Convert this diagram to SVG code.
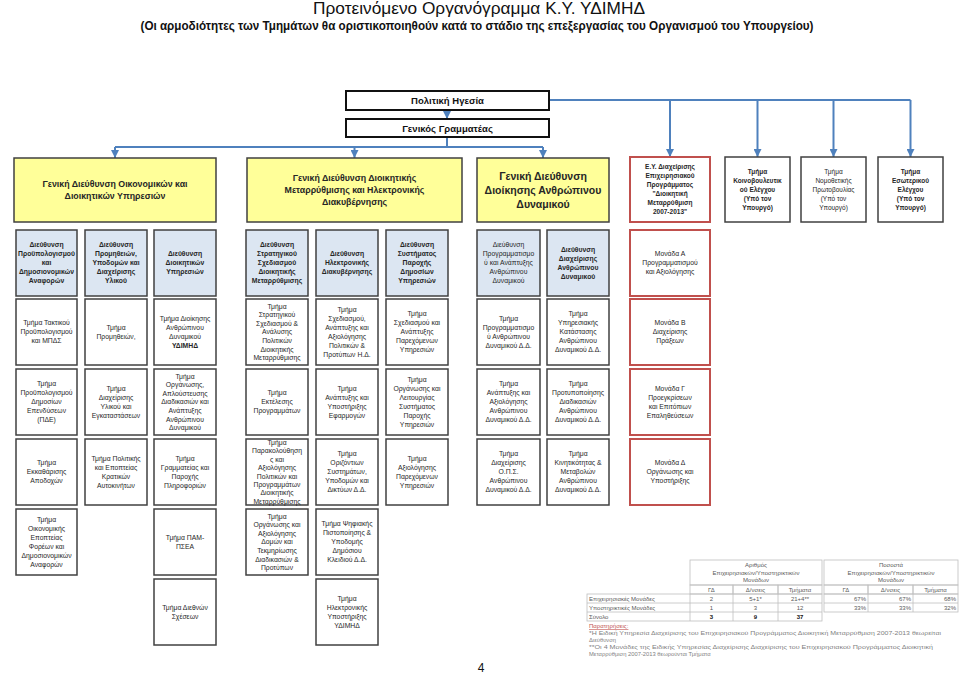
<svg xmlns="http://www.w3.org/2000/svg" width="960" height="676" viewBox="0 0 960 676">
<style>
text{font-family:"Liberation Sans",Arial,sans-serif}
.t{font-size:6.8px;fill:#262626;text-anchor:middle}
.tr{font-size:6.5px;fill:#262626;text-anchor:middle}
.b{font-weight:bold}
.w{fill:#fff;stroke:#404040;stroke-width:1.5}
.bl{fill:#dce6f2;stroke:#404040;stroke-width:1.5}
.yl{fill:#ffff99;stroke:#404040;stroke-width:1.5}
.rd{fill:#fff;stroke:#c0504d;stroke-width:2}
.top{fill:#fff;stroke:#111;stroke-width:2}
.c{stroke:#4f81bd;stroke-width:2;fill:none}
.tb{fill:none;stroke:#bfbfbf;stroke-width:0.8}
.tt{font-size:6px;fill:#595959;text-anchor:middle}
.tl{font-size:6px;fill:#595959}
.nt{font-size:5.8px;fill:#7f7f7f}
</style>
<defs>
<marker id="ar" markerUnits="userSpaceOnUse" markerWidth="8" markerHeight="8" refX="8" refY="4" orient="auto">
<path d="M0,0 L8,4 L0,8 z" fill="#4f81bd"/>
</marker>
</defs>
<rect width="960" height="676" fill="#fff"/>
<text x="479" y="14" font-size="17" text-anchor="middle" fill="#111" textLength="332" lengthAdjust="spacingAndGlyphs">Προτεινόμενο Οργανόγραμμα Κ.Υ. ΥΔΙΜΗΔ</text>
<text x="477" y="30" font-size="12.5" font-weight="bold" text-anchor="middle" fill="#111" textLength="673" lengthAdjust="spacingAndGlyphs">(Οι αρμοδιότητες των Τμημάτων θα οριστικοποιηθούν κατά το στάδιο της επεξεργασίας του Οργανισμού του Υπουργείου)</text>

<g id="connectors">
<path class="c" d="M549,100 H910.5"/>
<path class="c" d="M670,100 V157" marker-end="url(#ar)"/>
<path class="c" d="M757.5,100 V157" marker-end="url(#ar)"/>
<path class="c" d="M833.5,100 V157" marker-end="url(#ar)"/>
<path class="c" d="M910.5,100 V157" marker-end="url(#ar)"/>
<path class="c" d="M447,110 V119" marker-end="url(#ar)"/>
<path class="c" d="M447,137 V147 M115,147 H543"/>
<path class="c" d="M115,147 V158" marker-end="url(#ar)"/>
<path class="c" d="M354.5,147 V158" marker-end="url(#ar)"/>
<path class="c" d="M543,147 V158" marker-end="url(#ar)"/>
</g>

<g id="politiki"><rect class="top" x="346" y="91" width="203" height="19"/><text x="447.5" y="104" font-size="9.5" font-weight="bold" text-anchor="middle" fill="#111">Πολιτική Ηγεσία</text></g>
<g id="gengram"><rect class="top" x="346" y="119" width="203" height="18"/><text x="447.5" y="131.5" font-size="9.5" font-weight="bold" text-anchor="middle" fill="#111">Γενικός Γραμματέας</text></g>

<g id="gd-oik"><rect class="yl" x="14" y="158" width="202" height="64"/><text class="t b" style="font-size:8.8px" x="115" y="187"><tspan x="115" dy="0">Γενική Διεύθυνση Οικονομικών και</tspan><tspan x="115" dy="12">Διοικητικών Υπηρεσιών</tspan></text></g>
<g id="gd-dm"><rect class="yl" x="247" y="158" width="215" height="64"/><text class="t b" style="font-size:8.8px" x="354.5" y="181"><tspan x="354.5" dy="0">Γενική Διεύθυνση Διοικητικής</tspan><tspan x="354.5" dy="12">Μεταρρύθμισης και Ηλεκτρονικής</tspan><tspan x="354.5" dy="12">Διακυβέρνησης</tspan></text></g>
<g id="gd-ad"><rect class="yl" x="477" y="158" width="132" height="64"/><text class="t b" style="font-size:10.5px" x="543" y="179.7"><tspan x="543" dy="0">Γενική Διεύθυνση</tspan><tspan x="543" dy="14">Διοίκησης Ανθρώπινου</tspan><tspan x="543" dy="14">Δυναμικού</tspan></text></g>

<g id="ey"><rect class="rd" x="630" y="157" width="80" height="65"/><text class="tr b" x="670" y="169.4"><tspan x="670" dy="0">Ε.Υ. Διαχείρισης</tspan><tspan x="670" dy="9">Επιχειρησιακού</tspan><tspan x="670" dy="9">Προγράμματος</tspan><tspan x="670" dy="9">"Διοικητική</tspan><tspan x="670" dy="9">Μεταρρύθμιση</tspan><tspan x="670" dy="9">2007-2013"</tspan></text></g>
<g id="t-koin"><rect class="w" x="725" y="157" width="65" height="65"/><text class="tr b" x="757.5" y="173.9"><tspan x="757.5" dy="0">Τμήμα</tspan><tspan x="757.5" dy="9">Κοινοβουλευτικ</tspan><tspan x="757.5" dy="9">ού Ελέγχου</tspan><tspan x="757.5" dy="9">(Υπό τον</tspan><tspan x="757.5" dy="9">Υπουργό)</tspan></text></g>
<g id="t-nom"><rect class="w" x="801" y="157" width="65" height="65"/><text class="tr" x="833.5" y="173.9"><tspan x="833.5" dy="0">Τμήμα</tspan><tspan x="833.5" dy="9">Νομοθετικής</tspan><tspan x="833.5" dy="9">Πρωτοβουλίας</tspan><tspan x="833.5" dy="9">(Υπό τον</tspan><tspan x="833.5" dy="9">Υπουργό)</tspan></text></g>
<g id="t-esot"><rect class="w" x="878" y="157" width="65" height="65"/><text class="tr b" x="910.5" y="173.9"><tspan x="910.5" dy="0">Τμήμα</tspan><tspan x="910.5" dy="9">Εσωτερικού</tspan><tspan x="910.5" dy="9">Ελέγχου</tspan><tspan x="910.5" dy="9">(Υπό τον</tspan><tspan x="910.5" dy="9">Υπουργό)</tspan></text></g>

<!-- Row 2: Directorates -->
<g id="d-proy"><rect class="bl" x="16" y="230" width="61" height="66"/><text class="t b" x="46.5" y="247.4"><tspan x="46.5" dy="0">Διεύθυνση</tspan><tspan x="46.5" dy="9">Προϋπολογισμού</tspan><tspan x="46.5" dy="9">και</tspan><tspan x="46.5" dy="9">Δημοσιονομικών</tspan><tspan x="46.5" dy="9">Αναφορών</tspan></text></g>
<g id="d-prom"><rect class="bl" x="85" y="230" width="62" height="66"/><text class="t b" x="116" y="247.4"><tspan x="116" dy="0">Διεύθυνση</tspan><tspan x="116" dy="9">Προμηθειών,</tspan><tspan x="116" dy="9">Υποδομών και</tspan><tspan x="116" dy="9">Διαχείρισης</tspan><tspan x="116" dy="9">Υλικού</tspan></text></g>
<g id="d-dioik"><rect class="bl" x="154" y="230" width="62" height="66"/><text class="t b" x="185" y="256.4"><tspan x="185" dy="0">Διεύθυνση</tspan><tspan x="185" dy="9">Διοικητικών</tspan><tspan x="185" dy="9">Υπηρεσιών</tspan></text></g>
<g id="d-strat"><rect class="bl" x="246" y="230" width="62" height="66"/><text class="t b" x="277" y="247.4"><tspan x="277" dy="0">Διεύθυνση</tspan><tspan x="277" dy="9">Στρατηγικού</tspan><tspan x="277" dy="9">Σχεδιασμού</tspan><tspan x="277" dy="9">Διοικητικής</tspan><tspan x="277" dy="9">Μεταρρύθμισης</tspan></text></g>
<g id="d-hd"><rect class="bl" x="316" y="230" width="62" height="66"/><text class="t b" x="347" y="256.4"><tspan x="347" dy="0">Διεύθυνση</tspan><tspan x="347" dy="9">Ηλεκτρονικής</tspan><tspan x="347" dy="9">Διακυβέρνησης</tspan></text></g>
<g id="d-syst"><rect class="bl" x="386" y="230" width="62" height="66"/><text class="t b" x="417" y="247.4"><tspan x="417" dy="0">Διεύθυνση</tspan><tspan x="417" dy="9">Συστήματος</tspan><tspan x="417" dy="9">Παροχής</tspan><tspan x="417" dy="9">Δημοσίων</tspan><tspan x="417" dy="9">Υπηρεσιών</tspan></text></g>
<g id="d-progad"><rect class="bl" x="477" y="230" width="63" height="66"/><text class="t" x="508.5" y="247.4"><tspan x="508.5" dy="0">Διεύθυνση</tspan><tspan x="508.5" dy="9">Προγραμματισμο</tspan><tspan x="508.5" dy="9">ύ και Ανάπτυξης</tspan><tspan x="508.5" dy="9">Ανθρώπινου</tspan><tspan x="508.5" dy="9">Δυναμικού</tspan></text></g>
<g id="d-diaxad"><rect class="bl" x="547" y="230" width="62" height="66"/><text class="t b" x="578" y="251.9"><tspan x="578" dy="0">Διεύθυνση</tspan><tspan x="578" dy="9">Διαχείρισης</tspan><tspan x="578" dy="9">Ανθρώπινου</tspan><tspan x="578" dy="9">Δυναμικού</tspan></text></g>
<g id="m-a"><rect class="rd" x="630" y="230" width="80" height="66"/><text class="t" x="670" y="256.4"><tspan x="670" dy="0">Μονάδα Α</tspan><tspan x="670" dy="9">Προγραμματισμού</tspan><tspan x="670" dy="9">και Αξιολόγησης</tspan></text></g>

<!-- Row 3 -->
<g id="t-takt"><rect class="w" x="16" y="299" width="61" height="66"/><text class="t" x="46.5" y="325.4"><tspan x="46.5" dy="0">Τμήμα Τακτικού</tspan><tspan x="46.5" dy="9">Προϋπολογισμού</tspan><tspan x="46.5" dy="9">και ΜΠΔΣ</tspan></text></g>
<g id="t-prom"><rect class="w" x="85" y="299" width="62" height="66"/><text class="t" x="116" y="329.9"><tspan x="116" dy="0">Τμήμα</tspan><tspan x="116" dy="9">Προμηθειών,</tspan></text></g>
<g id="t-dioikad"><rect class="w" x="154" y="299" width="62" height="66"/><text class="t" x="185" y="320.9"><tspan x="185" dy="0">Τμήμα Διοίκησης</tspan><tspan x="185" dy="9">Ανθρώπινου</tspan><tspan x="185" dy="9">Δυναμικού</tspan><tspan x="185" dy="9" font-weight="bold">ΥΔΙΜΗΔ</tspan></text></g>
<g id="t-strat"><rect class="w" x="246" y="299" width="62" height="66"/><text class="t" x="277" y="308.6"><tspan x="277" dy="0">Τμήμα</tspan><tspan x="277" dy="8.6">Στρατηγικού</tspan><tspan x="277" dy="8.6">Σχεδιασμού &amp;</tspan><tspan x="277" dy="8.6">Ανάλυσης</tspan><tspan x="277" dy="8.6">Πολιτικών</tspan><tspan x="277" dy="8.6">Διοικητικής</tspan><tspan x="277" dy="8.6">Μεταρρύθμισης</tspan></text></g>
<g id="t-sxed"><rect class="w" x="316" y="299" width="62" height="66"/><text class="t" x="347" y="311.9"><tspan x="347" dy="0">Τμήμα</tspan><tspan x="347" dy="9">Σχεδιασμού,</tspan><tspan x="347" dy="9">Ανάπτυξης και</tspan><tspan x="347" dy="9">Αξιολόγησης</tspan><tspan x="347" dy="9">Πολιτικών &amp;</tspan><tspan x="347" dy="9">Προτύπων Η.Δ.</tspan></text></g>
<g id="t-sxedyp"><rect class="w" x="386" y="299" width="62" height="66"/><text class="t" x="417" y="316.4"><tspan x="417" dy="0">Τμήμα</tspan><tspan x="417" dy="9">Σχεδιασμού και</tspan><tspan x="417" dy="9">Ανάπτυξης</tspan><tspan x="417" dy="9">Παρεχόμενων</tspan><tspan x="417" dy="9">Υπηρεσιών</tspan></text></g>
<g id="t-progad"><rect class="w" x="477" y="299" width="63" height="66"/><text class="t" x="508.5" y="320.9"><tspan x="508.5" dy="0">Τμήμα</tspan><tspan x="508.5" dy="9">Προγραμματισμο</tspan><tspan x="508.5" dy="9">ύ Ανθρώπινου</tspan><tspan x="508.5" dy="9">Δυναμικού Δ.Δ.</tspan></text></g>
<g id="t-ypkat"><rect class="w" x="547" y="299" width="62" height="66"/><text class="t" x="578" y="316.4"><tspan x="578" dy="0">Τμήμα</tspan><tspan x="578" dy="9">Υπηρεσιακής</tspan><tspan x="578" dy="9">Κατάστασης</tspan><tspan x="578" dy="9">Ανθρώπινου</tspan><tspan x="578" dy="9">Δυναμικού Δ.Δ.</tspan></text></g>
<g id="m-b"><rect class="rd" x="630" y="299" width="80" height="66"/><text class="t" x="670" y="325.4"><tspan x="670" dy="0">Μονάδα Β</tspan><tspan x="670" dy="9">Διαχείρισης</tspan><tspan x="670" dy="9">Πράξεων</tspan></text></g>

<!-- Row 4 -->
<g id="t-pde"><rect class="w" x="16" y="369" width="61" height="66"/><text class="t" x="46.5" y="386.4"><tspan x="46.5" dy="0">Τμήμα</tspan><tspan x="46.5" dy="9">Προϋπολογισμού</tspan><tspan x="46.5" dy="9">Δημοσίων</tspan><tspan x="46.5" dy="9">Επενδύσεων</tspan><tspan x="46.5" dy="9">(ΠΔΕ)</tspan></text></g>
<g id="t-ylik"><rect class="w" x="85" y="369" width="62" height="66"/><text class="t" x="116" y="390.9"><tspan x="116" dy="0">Τμήμα</tspan><tspan x="116" dy="9">Διαχείρισης</tspan><tspan x="116" dy="9">Υλικού και</tspan><tspan x="116" dy="9">Εγκαταστάσεων</tspan></text></g>
<g id="t-org"><rect class="w" x="154" y="369" width="62" height="66"/><text class="t" x="185" y="378.6"><tspan x="185" dy="0">Τμήμα</tspan><tspan x="185" dy="8.6">Οργάνωσης,</tspan><tspan x="185" dy="8.6">Απλούστευσης</tspan><tspan x="185" dy="8.6">Διαδικασιών και</tspan><tspan x="185" dy="8.6">Ανάπτυξης</tspan><tspan x="185" dy="8.6">Ανθρώπινου</tspan><tspan x="185" dy="8.6">Δυναμικού</tspan></text></g>
<g id="t-ekt"><rect class="w" x="246" y="369" width="62" height="66"/><text class="t" x="277" y="395.4"><tspan x="277" dy="0">Τμήμα</tspan><tspan x="277" dy="9">Εκτέλεσης</tspan><tspan x="277" dy="9">Προγραμμάτων</tspan></text></g>
<g id="t-efarm"><rect class="w" x="316" y="369" width="62" height="66"/><text class="t" x="347" y="390.9"><tspan x="347" dy="0">Τμήμα</tspan><tspan x="347" dy="9">Ανάπτυξης και</tspan><tspan x="347" dy="9">Υποστήριξης</tspan><tspan x="347" dy="9">Εφαρμογών</tspan></text></g>
<g id="t-leit"><rect class="w" x="386" y="369" width="62" height="66"/><text class="t" x="417" y="381.9"><tspan x="417" dy="0">Τμήμα</tspan><tspan x="417" dy="9">Οργάνωσης και</tspan><tspan x="417" dy="9">Λειτουργίας</tspan><tspan x="417" dy="9">Συστήματος</tspan><tspan x="417" dy="9">Παροχής</tspan><tspan x="417" dy="9">Υπηρεσιών</tspan></text></g>
<g id="t-anapt"><rect class="w" x="477" y="369" width="63" height="66"/><text class="t" x="508.5" y="386.4"><tspan x="508.5" dy="0">Τμήμα</tspan><tspan x="508.5" dy="9">Ανάπτυξης και</tspan><tspan x="508.5" dy="9">Αξιολόγησης</tspan><tspan x="508.5" dy="9">Ανθρώπινου</tspan><tspan x="508.5" dy="9">Δυναμικού Δ.Δ.</tspan></text></g>
<g id="t-protyp"><rect class="w" x="547" y="369" width="62" height="66"/><text class="t" x="578" y="386.4"><tspan x="578" dy="0">Τμήμα</tspan><tspan x="578" dy="9">Προτυποποίησης</tspan><tspan x="578" dy="9">Διαδικασιών</tspan><tspan x="578" dy="9">Ανθρώπινου</tspan><tspan x="578" dy="9">Δυναμικού Δ.Δ.</tspan></text></g>
<g id="m-g"><rect class="rd" x="630" y="369" width="80" height="66"/><text class="t" x="670" y="390.9"><tspan x="670" dy="0">Μονάδα Γ</tspan><tspan x="670" dy="9">Προεγκρίσεων</tspan><tspan x="670" dy="9">και  Επιτόπιων</tspan><tspan x="670" dy="9">Επαληθεύσεων</tspan></text></g>

<!-- Row 5 -->
<g id="t-ekk"><rect class="w" x="16" y="439" width="61" height="66"/><text class="t" x="46.5" y="465.4"><tspan x="46.5" dy="0">Τμήμα</tspan><tspan x="46.5" dy="9">Εκκαθάρισης</tspan><tspan x="46.5" dy="9">Αποδοχών</tspan></text></g>
<g id="t-aut"><rect class="w" x="85" y="439" width="62" height="66"/><text class="t" x="116" y="460.9"><tspan x="116" dy="0">Τμήμα Πολιτικής</tspan><tspan x="116" dy="9">και Εποπτείας</tspan><tspan x="116" dy="9">Κρατικών</tspan><tspan x="116" dy="9">Αυτοκινήτων</tspan></text></g>
<g id="t-gram"><rect class="w" x="154" y="439" width="62" height="66"/><text class="t" x="185" y="460.9"><tspan x="185" dy="0">Τμήμα</tspan><tspan x="185" dy="9">Γραμματείας και</tspan><tspan x="185" dy="9">Παροχής</tspan><tspan x="185" dy="9">Πληροφοριών</tspan></text></g>
<g id="t-parak"><rect class="w" x="246" y="439" width="62" height="66"/><text class="t" x="277" y="445"><tspan x="277" dy="0">Τμήμα</tspan><tspan x="277" dy="8.4">Παρακολούθηση</tspan><tspan x="277" dy="8.4">ς και</tspan><tspan x="277" dy="8.4">Αξιολόγησης</tspan><tspan x="277" dy="8.4">Πολιτικών και</tspan><tspan x="277" dy="8.4">Προγραμμάτων</tspan><tspan x="277" dy="8.4">Διοικητικής</tspan><tspan x="277" dy="8.4">Μεταρρύθμισης</tspan></text></g>
<g id="t-oriz"><rect class="w" x="316" y="439" width="62" height="66"/><text class="t" x="347" y="456.4"><tspan x="347" dy="0">Τμήμα</tspan><tspan x="347" dy="9">Οριζόντιων</tspan><tspan x="347" dy="9">Συστημάτων,</tspan><tspan x="347" dy="9">Υποδομών και</tspan><tspan x="347" dy="9">Δικτύων Δ.Δ.</tspan></text></g>
<g id="t-axiol"><rect class="w" x="386" y="439" width="62" height="66"/><text class="t" x="417" y="460.9"><tspan x="417" dy="0">Τμήμα</tspan><tspan x="417" dy="9">Αξιολόγησης</tspan><tspan x="417" dy="9">Παρεχόμενων</tspan><tspan x="417" dy="9">Υπηρεσιών</tspan></text></g>
<g id="t-ops"><rect class="w" x="477" y="439" width="63" height="66"/><text class="t" x="508.5" y="456.4"><tspan x="508.5" dy="0">Τμήμα</tspan><tspan x="508.5" dy="9">Διαχείρισης</tspan><tspan x="508.5" dy="9">Ο.Π.Σ.</tspan><tspan x="508.5" dy="9">Ανθρώπινου</tspan><tspan x="508.5" dy="9">Δυναμικού Δ.Δ.</tspan></text></g>
<g id="t-kin"><rect class="w" x="547" y="439" width="62" height="66"/><text class="t" x="578" y="456.4"><tspan x="578" dy="0">Τμήμα</tspan><tspan x="578" dy="9">Κινητικότητας &amp;</tspan><tspan x="578" dy="9">Μεταβολών</tspan><tspan x="578" dy="9">Ανθρώπινου</tspan><tspan x="578" dy="9">Δυναμικού Δ.Δ.</tspan></text></g>
<g id="m-d"><rect class="rd" x="630" y="439" width="80" height="66"/><text class="t" x="670" y="465.4"><tspan x="670" dy="0">Μονάδα Δ</tspan><tspan x="670" dy="9">Οργάνωσης και</tspan><tspan x="670" dy="9">Υποστήριξης</tspan></text></g>

<!-- Row 6 -->
<g id="t-oikep"><rect class="w" x="16" y="509" width="61" height="66"/><text class="t" x="46.5" y="521.9"><tspan x="46.5" dy="0">Τμήμα</tspan><tspan x="46.5" dy="9">Οικονομικής</tspan><tspan x="46.5" dy="9">Εποπτείας</tspan><tspan x="46.5" dy="9">Φορέων και</tspan><tspan x="46.5" dy="9">Δημοσιονομικών</tspan><tspan x="46.5" dy="9">Αναφορών</tspan></text></g>
<g id="t-pam"><rect class="w" x="154" y="509" width="62" height="66"/><text class="t" x="185" y="539.9"><tspan x="185" dy="0">Τμήμα ΠΑΜ-</tspan><tspan x="185" dy="9">ΠΣΕΑ</tspan></text></g>
<g id="t-domon"><rect class="w" x="246" y="509" width="62" height="66"/><text class="t" x="277" y="518.6"><tspan x="277" dy="0">Τμήμα</tspan><tspan x="277" dy="8.6">Οργάνωσης και</tspan><tspan x="277" dy="8.6">Αξιολόγησης</tspan><tspan x="277" dy="8.6">Δομών και</tspan><tspan x="277" dy="8.6">Τεκμηρίωσης</tspan><tspan x="277" dy="8.6">Διαδικασιών &amp;</tspan><tspan x="277" dy="8.6">Προτύπων</tspan></text></g>
<g id="t-psif"><rect class="w" x="316" y="509" width="62" height="66"/><text class="t" x="347" y="526.4"><tspan x="347" dy="0">Τμήμα Ψηφιακής</tspan><tspan x="347" dy="9">Πιστοποίησης  &amp;</tspan><tspan x="347" dy="9">Υποδομής</tspan><tspan x="347" dy="9">Δημόσιου</tspan><tspan x="347" dy="9">Κλειδιού Δ.Δ.</tspan></text></g>

<!-- Row 7 -->
<g id="t-dieth"><rect class="w" x="154" y="579" width="62" height="66"/><text class="t" x="185" y="609.9"><tspan x="185" dy="0">Τμήμα Διεθνών</tspan><tspan x="185" dy="9">Σχέσεων</tspan></text></g>
<g id="t-hlyp"><rect class="w" x="316" y="579" width="62" height="66"/><text class="t" x="347" y="600.9"><tspan x="347" dy="0">Τμήμα</tspan><tspan x="347" dy="9">Ηλεκτρονικής</tspan><tspan x="347" dy="9">Υποστήριξης</tspan><tspan x="347" dy="9">ΥΔΙΜΗΔ</tspan></text></g>

<!-- Table -->
<g id="table">
<rect class="tb" x="690" y="560" width="132" height="25"/>
<rect class="tb" x="690" y="585" width="43" height="9"/>
<rect class="tb" x="733" y="585" width="45" height="9"/>
<rect class="tb" x="778" y="585" width="44" height="9"/>
<rect class="tb" x="587" y="594" width="235" height="27"/>
<path class="tb" d="M587,603 H822 M587,612 H822 M690,594 V621 M733,594 V621 M778,594 V621"/>
<rect class="tb" x="824" y="560" width="134" height="25"/>
<rect class="tb" x="824" y="585" width="44" height="9"/>
<rect class="tb" x="868" y="585" width="45" height="9"/>
<rect class="tb" x="913" y="585" width="45" height="9"/>
<rect class="tb" x="824" y="594" width="134" height="18"/>
<path class="tb" d="M824,603 H958 M868,594 V612 M913,594 V612"/>
<text class="tt" x="756" y="567"><tspan x="756" dy="0">Αριθμός</tspan><tspan x="756" dy="7.5">Επιχειρησιακών/Υποστηρικτικών</tspan><tspan x="756" dy="7.5">Μονάδων</tspan></text>
<text class="tt" x="891" y="567"><tspan x="891" dy="0">Ποσοστά</tspan><tspan x="891" dy="7.5">Επιχειρησιακών/Υποστηρικτικών</tspan><tspan x="891" dy="7.5">Μονάδων</tspan></text>
<text class="tt" x="711.5" y="592">ΓΔ</text><text class="tt" x="755.5" y="592">Δ/νσεις</text><text class="tt" x="800" y="592">Τμήματα</text>
<text class="tt" x="846" y="592">ΓΔ</text><text class="tt" x="890.5" y="592">Δ/νσεις</text><text class="tt" x="935.5" y="592">Τμήματα</text>
<text class="tl" x="589" y="601">Επιχειρησιακές Μονάδες</text>
<text class="tl" x="589" y="610">Υποστηρικτικές Μονάδες</text>
<text class="tl" x="589" y="619">Σύνολο</text>
<text class="tt" x="711.5" y="601">2</text><text class="tt" x="755.5" y="601">5+1*</text><text class="tt" x="800" y="601">21+4**</text>
<text class="tt" x="711.5" y="610">1</text><text class="tt" x="755.5" y="610">3</text><text class="tt" x="800" y="610">12</text>
<text class="tt b" style="fill:#111" x="711.5" y="619">3</text><text class="tt b" style="fill:#111" x="755.5" y="619">9</text><text class="tt b" style="fill:#111" x="800" y="619">37</text>
<g class="tl" text-anchor="end"><text x="866" y="601">67%</text><text x="911" y="601">67%</text><text x="956" y="601">68%</text><text x="866" y="610">33%</text><text x="911" y="610">33%</text><text x="956" y="610">32%</text></g>
</g>

<g id="notes">
<text x="589" y="628" font-size="6" fill="#c0504d" text-decoration="underline">Παρατηρήσεις:</text>
<text class="nt" x="589" y="635" textLength="352" lengthAdjust="spacingAndGlyphs">*Η Ειδική Υπηρεσία Διαχείρισης του Επιχειρησιακού Προγράμματος Διοικητική Μεταρρύθμιση 2007-2013 θεωρείται</text>
<text class="nt" x="589" y="642">Διεύθυνση</text>
<text class="nt" x="589" y="649" textLength="344" lengthAdjust="spacingAndGlyphs">**Οι 4 Μονάδες της Ειδικής Υπηρεσίας Διαχείρισης  Διαχείρισης του Επιχειρησιακού Προγράμματος Διοικητική</text>
<text class="nt" x="589" y="656">Μεταρρύθμιση 2007-2013 θεωρούνται Τμήματα</text>
</g>

<text x="481" y="672" font-size="12" text-anchor="middle" fill="#111">4</text>
</svg>
